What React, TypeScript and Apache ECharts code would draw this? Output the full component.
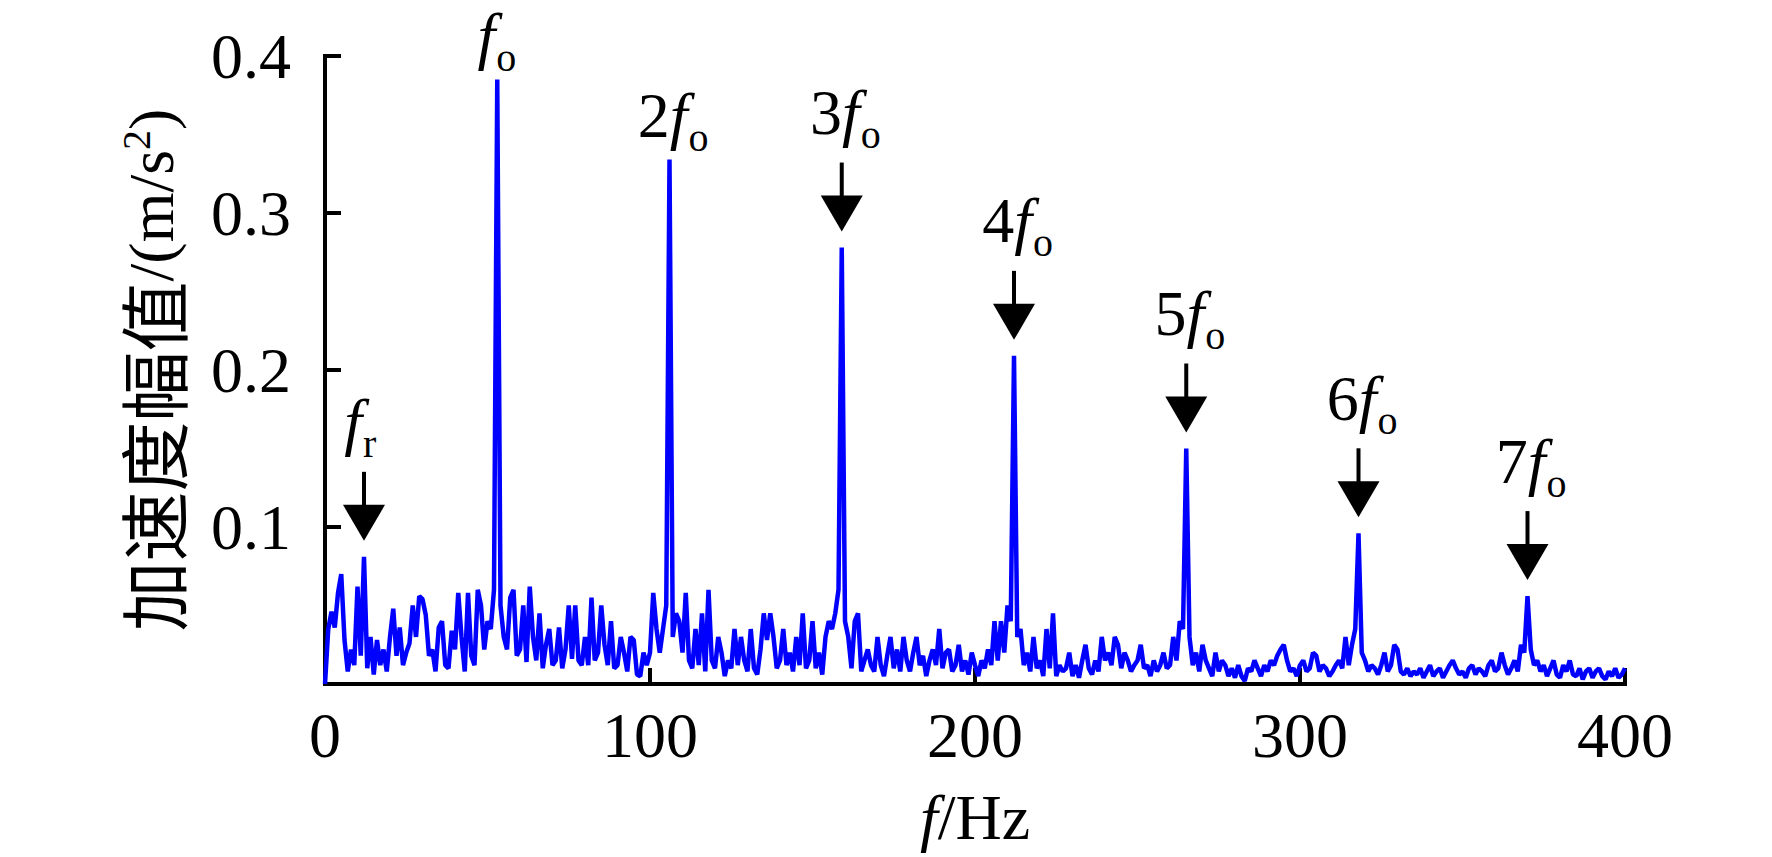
import React, { useEffect, useRef } from 'react';
import * as echarts from 'echarts';

// Spectrum sampled at 1 Hz, 0..400 Hz
const STEP_HZ = 1;
const amplitude: number[] = [
  0.000, 0.035, 0.046, 0.036, 0.058, 0.070, 0.028, 0.008, 0.022, 0.012,
  0.062, 0.018, 0.081, 0.010, 0.030, 0.006, 0.028, 0.012, 0.022, 0.008,
  0.030, 0.048, 0.018, 0.036, 0.012, 0.020, 0.026, 0.050, 0.030, 0.056,
  0.054, 0.044, 0.018, 0.022, 0.008, 0.036, 0.040, 0.012, 0.010, 0.034,
  0.022, 0.058, 0.030, 0.008, 0.058, 0.018, 0.012, 0.060, 0.050, 0.022,
  0.040, 0.035, 0.060, 0.385, 0.050, 0.030, 0.022, 0.055, 0.060, 0.018,
  0.022, 0.050, 0.014, 0.062, 0.030, 0.015, 0.045, 0.010, 0.025, 0.035,
  0.012, 0.015, 0.036, 0.010, 0.022, 0.050, 0.016, 0.050, 0.015, 0.012,
  0.030, 0.012, 0.055, 0.015, 0.020, 0.050, 0.025, 0.012, 0.040, 0.010,
  0.012, 0.030, 0.020, 0.008, 0.030, 0.028, 0.006, 0.005, 0.020, 0.012,
  0.020, 0.058, 0.035, 0.020, 0.035, 0.050, 0.334, 0.030, 0.045, 0.040,
  0.020, 0.058, 0.015, 0.010, 0.035, 0.012, 0.045, 0.008, 0.060, 0.015,
  0.010, 0.030, 0.020, 0.005, 0.015, 0.010, 0.035, 0.012, 0.030, 0.015,
  0.008, 0.035, 0.010, 0.006, 0.022, 0.045, 0.028, 0.045, 0.030, 0.010,
  0.015, 0.035, 0.012, 0.020, 0.008, 0.030, 0.012, 0.045, 0.010, 0.015,
  0.040, 0.010, 0.020, 0.006, 0.030, 0.040, 0.035, 0.045, 0.060, 0.278,
  0.040, 0.030, 0.010, 0.040, 0.045, 0.008, 0.015, 0.022, 0.012, 0.008,
  0.030, 0.012, 0.005, 0.018, 0.030, 0.010, 0.022, 0.008, 0.030, 0.015,
  0.008, 0.020, 0.030, 0.012, 0.018, 0.005, 0.015, 0.022, 0.012, 0.035,
  0.010, 0.020, 0.022, 0.008, 0.012, 0.025, 0.008, 0.015, 0.006, 0.020,
  0.012, 0.005, 0.015, 0.010, 0.022, 0.012, 0.040, 0.015, 0.040, 0.020,
  0.050, 0.040, 0.209, 0.030, 0.035, 0.012, 0.020, 0.008, 0.030, 0.010,
  0.015, 0.005, 0.035, 0.010, 0.045, 0.005, 0.012, 0.008, 0.010, 0.020,
  0.005, 0.012, 0.004, 0.015, 0.025, 0.010, 0.006, 0.015, 0.008, 0.030,
  0.015, 0.020, 0.012, 0.030, 0.025, 0.010, 0.020, 0.015, 0.008, 0.012,
  0.015, 0.025, 0.010, 0.012, 0.005, 0.015, 0.008, 0.012, 0.020, 0.010,
  0.012, 0.030, 0.015, 0.040, 0.035, 0.150, 0.030, 0.012, 0.020, 0.008,
  0.025, 0.015, 0.010, 0.005, 0.020, 0.008, 0.015, 0.012, 0.005, 0.010,
  0.004, 0.012, 0.005, 0.002, 0.010, 0.008, 0.015, 0.010, 0.005, 0.012,
  0.008, 0.015, 0.012, 0.018, 0.022, 0.025, 0.015, 0.008, 0.010, 0.005,
  0.012, 0.015, 0.008, 0.010, 0.020, 0.018, 0.008, 0.012, 0.010, 0.005,
  0.008, 0.012, 0.015, 0.010, 0.030, 0.012, 0.025, 0.035, 0.096, 0.020,
  0.015, 0.008, 0.012, 0.010, 0.006, 0.012, 0.020, 0.008, 0.012, 0.025,
  0.022, 0.008, 0.006, 0.010, 0.005, 0.008, 0.006, 0.010, 0.004, 0.008,
  0.012, 0.005, 0.008, 0.010, 0.004, 0.008, 0.012, 0.015, 0.010, 0.006,
  0.008, 0.004, 0.010, 0.012, 0.006, 0.010, 0.008, 0.005, 0.012, 0.015,
  0.008, 0.010, 0.020, 0.012, 0.006, 0.010, 0.015, 0.008, 0.025, 0.020,
  0.056, 0.022, 0.012, 0.015, 0.008, 0.012, 0.005, 0.010, 0.015, 0.006,
  0.004, 0.012, 0.008, 0.015, 0.006, 0.005, 0.010, 0.003, 0.008, 0.010,
  0.004, 0.008, 0.010, 0.005, 0.003, 0.008, 0.005, 0.010, 0.004, 0.006,
  0.010,
];

// Annotated peaks (index into amplitude)
const annotationIndex = [12, 53, 106, 159, 212, 265, 318, 370];
const annotationPrefix = ['', '', '2', '3', '4', '5', '6', '7'];
const annotationSub = ['r', 'o', 'o', 'o', 'o', 'o', 'o', 'o'];
const annotationArrow = [true, false, false, true, true, true, true, true];

const X_MIN = 0;
const X_MAX = 400;
const X_INTERVAL = 100;
const Y_MIN = 0;
const Y_MAX = 0.4;
const Y_INTERVAL = 0.1;

const W = 1772;
const H = 857;
const SERIF = 'Liberation Serif';
const CJK = 'Noto Sans CJK SC';

export default function App() {
  const ref = useRef<HTMLDivElement>(null);

  useEffect(() => {
    document.body.style.margin = '0';
    const chart = echarts.init(ref.current as HTMLDivElement, null, { renderer: 'svg' });

    const lineData = amplitude.map((v, i) => [i * STEP_HZ, v]);
    const annData = annotationIndex.map((fi, k) => [fi * STEP_HZ, amplitude[fi], k]);

    const renderItem = (params: any, api: any) => {
      const f = api.value(0);
      const v = api.value(1);
      const k = api.value(2);
      const pt = api.coord([f, v]);
      const px = pt[0];
      const py = pt[1];
      const prefix = annotationPrefix[k];
      const sub = annotationSub[k];
      const children: any[] = [];
      let subBL: number;
      if (annotationArrow[k]) {
        const tip = py - 16;
        const base = tip - 36;
        const top = tip - 69;
        children.push({
          type: 'line',
          shape: { x1: px, y1: top, x2: px, y2: base + 2 },
          style: { stroke: '#000', lineWidth: 4 },
        });
        children.push({
          type: 'polygon',
          shape: { points: [[px - 21, base], [px + 21, base], [px, tip]] },
          style: { fill: '#000' },
        });
        subBL = top - 15;
      } else {
        subBL = py - 9;
      }
      const mainBL = subBL - 14;
      const J = prefix ? px + 18 : px - 2;
      children.push({
        type: 'text',
        style: {
          text: prefix ? `{n|${prefix}}{i|f}` : '{i|f}',
          rich: {
            n: { fontFamily: SERIF, fontSize: 64, fontStyle: 'normal', fill: '#000' },
            i: { fontFamily: SERIF, fontSize: 64, fontStyle: 'italic', fill: '#000' },
          },
          x: J,
          y: mainBL - 21,
          align: 'right',
          verticalAlign: 'middle',
          fill: '#000',
        },
      });
      children.push({
        type: 'text',
        style: {
          text: sub,
          x: J + 1,
          y: subBL - 13,
          fontFamily: SERIF,
          fontSize: 40,
          fill: '#000',
          align: 'left',
          verticalAlign: 'middle',
        },
      });
      return { type: 'group', children };
    };

    chart.setOption({
      animation: false,
      backgroundColor: '#fff',
      grid: { left: 325, right: 147, top: 56, bottom: 173, containLabel: false, outerBoundsMode: 'none' },
      xAxis: {
        type: 'value',
        min: X_MIN,
        max: X_MAX,
        interval: X_INTERVAL,
        axisLine: { show: true, onZero: false, lineStyle: { color: '#000', width: 4, cap: 'square' } },
        axisTick: { show: true, inside: true, length: 16, lineStyle: { color: '#000', width: 4 } },
        axisLabel: {
          margin: 19,
          color: '#000',
          fontFamily: SERIF,
          fontSize: 64,
          showMinLabel: true,
          showMaxLabel: true,
        },
        splitLine: { show: false },
        name: '{i|f}{t|/Hz}',
        nameLocation: 'middle',
        nameGap: 101,
        nameTextStyle: {
          rich: {
            i: { fontFamily: SERIF, fontStyle: 'italic', fontSize: 64, color: '#000' },
            t: { fontFamily: SERIF, fontSize: 64, color: '#000' },
          },
        },
      },
      yAxis: {
        type: 'value',
        min: Y_MIN,
        max: Y_MAX,
        interval: Y_INTERVAL,
        axisLine: { show: true, onZero: false, lineStyle: { color: '#000', width: 4, cap: 'square' } },
        axisTick: { show: true, inside: true, length: 16, lineStyle: { color: '#000', width: 4 } },
        axisLabel: {
          margin: 34,
          color: '#000',
          fontFamily: SERIF,
          fontSize: 64,
          formatter: (val: number) => (Math.abs(val) < 1e-9 ? '' : val.toFixed(1)),
        },
        splitLine: { show: false },
        name: '{c|加速度幅值}{t|/(m/s}{p|2}{t|)}',
        nameLocation: 'middle',
        nameRotate: 90,
        nameGap: 139,
        nameTextStyle: {
          rich: {
            c: { fontFamily: CJK, fontSize: 70, color: '#000' },
            t: { fontFamily: SERIF, fontSize: 64, color: '#000' },
            p: { fontFamily: SERIF, fontSize: 40, color: '#000', verticalAlign: 'top' },
          },
        },
      },
      series: [
        {
          type: 'line',
          data: lineData,
          symbol: 'none',
          showSymbol: false,
          lineStyle: { color: '#0000ff', width: 4.5 },
          itemStyle: { color: '#0000ff' },
          z: 2,
          silent: true,
        },
        {
          type: 'custom',
          data: annData,
          renderItem,
          clip: false,
          silent: true,
          z: 3,
        },
      ],
    });

    return () => {
      chart.dispose();
    };
  }, []);

  return <div ref={ref} style={{ width: W, height: H }} />;
}
